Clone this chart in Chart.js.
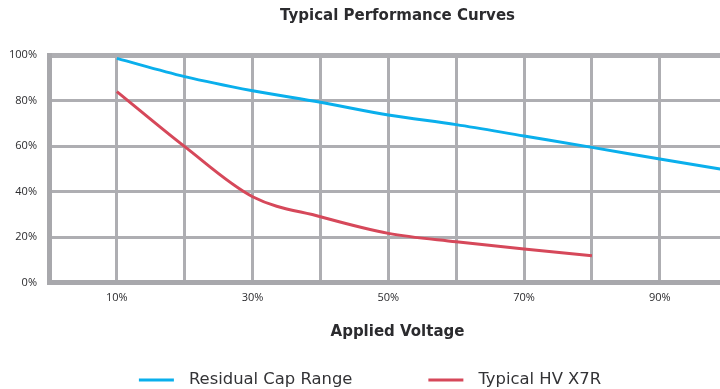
<!DOCTYPE html>
<html>
<head>
<meta charset="utf-8">
<script src="https://cdn.jsdelivr.net/npm/chart.js@4.4.1/dist/chart.umd.min.js"></script>
<style>
  html, body { margin: 0; padding: 0; background: #fff; overflow: hidden; }
</style>
</head>
<body>
<canvas id="perfChart" width="755" height="389"></canvas>
<script>
// applied voltage (% of rated) and remaining capacitance (%)
var capVoltage = [10, 20, 30, 40, 50, 60, 70, 80, 90, 100];
var capRange = [98.5, 90.5, 84.3, 79.2, 73.6, 69.4, 64.4, 59.4, 54.3, 49.3];
var x7rVoltage = [10, 20, 30, 40, 50, 60, 70, 80];
var x7rValues = [83.9, 59.7, 37.7, 28.9, 21.6, 17.9, 14.7, 11.8];
var xLabeled = [10, 30, 50, 70, 90];   // only these get a tick label
var yTicks = [0, 20, 40, 60, 80, 100];

var gridColor = '#aeaeb2';
var borderColor = '#a8a8ac';
var textColor = '#2b2b2e';
var tickFont = "'Open Sans', sans-serif";
var labelFont = "'DejaVu Sans', sans-serif";

function toPoints(xs, ys) {
  return xs.map(function (x, i) { return { x: x, y: ys[i] }; });
}

// legend drawn under the axis title: short line + label, wide gap between items
var lineLegend = {
  id: 'lineLegend',
  afterDraw: function (chart, args, opts) {
    var c = chart.ctx;
    c.save();
    c.font = opts.font;
    var items = chart.data.datasets.map(function (ds) {
      var tw = c.measureText(ds.label).width;
      return { text: ds.label, color: ds.borderColor, w: opts.lineLength + opts.textGap + tw };
    });
    var total = opts.itemGap * (items.length - 1);
    items.forEach(function (it) { total += it.w; });
    var x = opts.centerX - total / 2;
    var y = chart.height - opts.bottom;
    items.forEach(function (it) {
      c.strokeStyle = it.color;
      c.lineWidth = 3;
      c.beginPath();
      c.moveTo(x, y);
      c.lineTo(x + opts.lineLength, y);
      c.stroke();
      c.fillStyle = opts.color;
      c.textAlign = 'left';
      c.textBaseline = 'middle';
      c.fillText(it.text, x + opts.lineLength + opts.textGap, y);
      x += it.w + opts.itemGap;
    });
    c.restore();
  }
};

var ctx = document.getElementById('perfChart');
new Chart(ctx, {
  type: 'line',
  data: {
    datasets: [
      {
        label: 'Residual Cap Range',
        data: toPoints(capVoltage, capRange),
        borderColor: '#0aafec',
        backgroundColor: '#0aafec',
        borderWidth: 3,
        pointRadius: 0,
        cubicInterpolationMode: 'monotone'
      },
      {
        label: 'Typical HV X7R',
        data: toPoints(x7rVoltage, x7rValues),
        borderColor: '#d6485a',
        backgroundColor: '#d6485a',
        borderWidth: 3,
        pointRadius: 0,
        cubicInterpolationMode: 'monotone'
      }
    ]
  },
  options: {
    responsive: false,
    animation: false,
    events: [],
    layout: { padding: { left: 0, right: 0, top: 0, bottom: 46.5 } },
    scales: {
      x: {
        type: 'linear',
        min: 0,
        max: 102.7,
        afterFit: function (scale) { scale.height = 60; },
        grid: {
          color: gridColor,
          lineWidth: 3,
          drawTicks: false
        },
        border: { color: borderColor, width: 5 },
        ticks: {
          stepSize: 10,
          autoSkip: false,
          maxRotation: 0,
          padding: 9,
          color: textColor,
          font: { family: tickFont, size: 11 },
          callback: function (v) { return xLabeled.indexOf(v) >= 0 ? v + '%' : ''; }
        },
        title: {
          display: true,
          text: 'Applied Voltage',
          color: textColor,
          font: { family: labelFont, size: 15, weight: 'bold' },
          padding: { top: 0, bottom: 1.5 }
        }
      },
      y: {
        min: 0,
        max: 100,
        afterFit: function (scale) { scale.width = 49; },
        grid: {
          color: gridColor,
          lineWidth: function (c) { return c.tick && c.tick.value === 100 ? 5 : 3; },
          drawTicks: false
        },
        border: { color: borderColor, width: 5 },
        afterBuildTicks: function (scale) {
          scale.ticks = yTicks.map(function (v) { return { value: v }; });
        },
        ticks: {
          padding: 12,
          color: textColor,
          font: { family: tickFont, size: 11 },
          callback: function (v) { return v + '%'; }
        }
      }
    },
    plugins: {
      title: {
        display: true,
        text: 'Typical Performance Curves',
        fullSize: false,
        color: textColor,
        font: { family: labelFont, size: 15, weight: 'bold' },
        padding: { top: 7, bottom: 30 }
      },
      legend: { display: false },
      tooltip: { enabled: false },
      lineLegend: {
        font: "16.4px 'DejaVu Sans', sans-serif",
        color: '#333336',
        lineLength: 35,
        textGap: 15,
        itemGap: 76,
        centerX: 370,
        bottom: 9
      }
    }
  },
  plugins: [lineLegend]
});
</script>
</body>
</html>
